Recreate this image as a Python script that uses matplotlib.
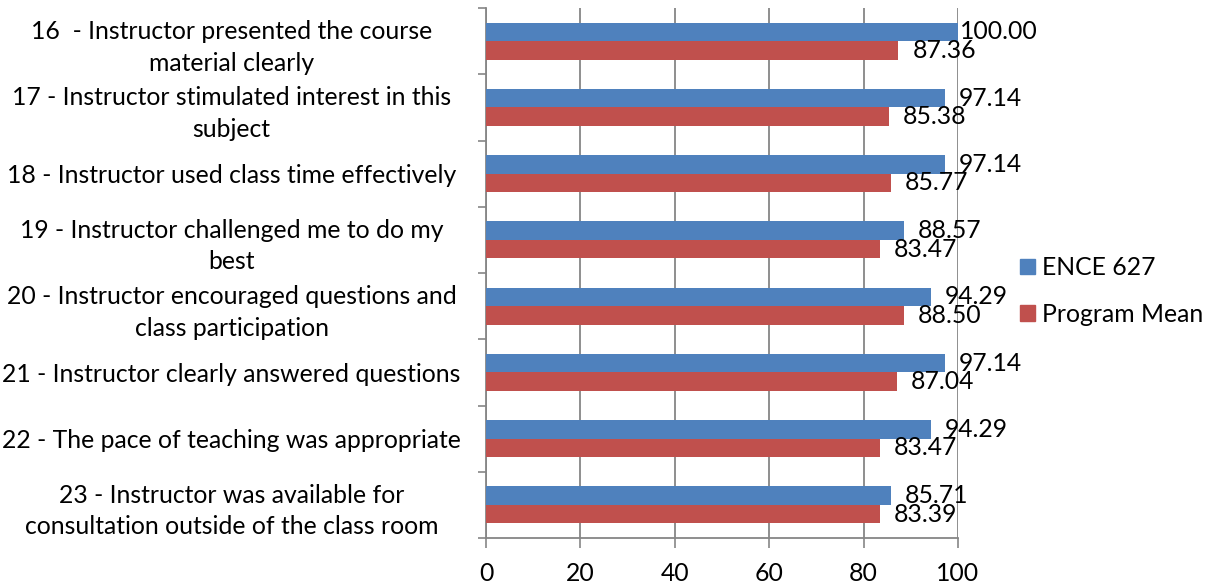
import matplotlib
matplotlib.use("Agg")
import matplotlib.pyplot as plt
import numpy as np
from matplotlib.patches import Patch

plt.rcParams['font.family'] = ['Lato', 'DejaVu Sans']

categories = [
    "16  - Instructor presented the course\nmaterial clearly",
    "17 - Instructor stimulated interest in this\nsubject",
    "18 - Instructor used class time effectively",
    "19 - Instructor challenged me to do my\nbest",
    "20 - Instructor encouraged questions and\nclass participation",
    "21 - Instructor clearly answered questions",
    "22 - The pace of teaching was appropriate",
    "23 - Instructor was available for\nconsultation outside of the class room",
]
ence_627 = [100.00, 97.14, 97.14, 88.57, 94.29, 97.14, 94.29, 85.71]
program_mean = [87.36, 85.38, 85.77, 83.47, 88.50, 87.04, 83.47, 83.39]
series_names = ["ENCE 627", "Program Mean"]
xticks = [0, 20, 40, 60, 80, 100]

BLUE = "#4F81BD"
RED = "#C0504D"
GRID = "#868686"
FS = 17.8

fig = plt.figure(figsize=(12.11, 5.86), dpi=100)
ax = fig.add_axes([486/1211, 1-538/586, (958-486)/1211, (538-8)/586])

n = len(categories)
y = np.arange(n)
h = 0.28
ax.barh(y - h/2, ence_627, height=h, color=BLUE, zorder=3)
ax.barh(y + h/2, program_mean, height=h, color=RED, zorder=3)

ax.set_xlim(0, 100)
ax.set_ylim(n - 0.5, -0.5)
ax.set_xticks(xticks)
ax.set_xticklabels([str(t) for t in xticks], fontsize=FS)
ax.set_yticks(y)
ax.set_yticklabels(categories, fontsize=FS, ha='center', linespacing=1.45)
ax.tick_params(axis='y', length=0)

ax.set_yticks(np.arange(-0.5, n, 1), minor=True)
ax.tick_params(axis='y', which='minor', length=6, color=GRID, width=1.2, direction='out')
ax.tick_params(axis='x', length=7, color=GRID, width=1.2, direction='out', pad=10)

ax.grid(axis='x', color=GRID, linewidth=1.3, zorder=0)
for s in ['top', 'right']:
    ax.spines[s].set_visible(False)
for s in ['left', 'bottom']:
    ax.spines[s].set_color(GRID)
    ax.spines[s].set_linewidth(1.3)

fig.canvas.draw()
renderer = fig.canvas.get_renderer()
right_edge_px = 461
widths = [lab.get_window_extent(renderer).width for lab in ax.get_yticklabels()]
maxw = max(widths)
center_px = right_edge_px - maxw/2
ax.tick_params(axis='y', which='major', pad=(486 - center_px) * 72/100)

def add_labels(vals, offs):
    for yi, v in zip(y, vals):
        xd = ax.transData.transform((v, 0))[0]
        xr = ax.transData.transform((100, 0))[0]
        xl = min(xd + 14, xr + 2)
        yd = ax.transData.transform((0, yi + offs))[1]
        ax.annotate(f"{v:.2f}", xy=(xl, yd), xycoords='figure pixels',
                    ha='left', va='center', fontsize=FS, zorder=5,
                    annotation_clip=False)

add_labels(ence_627, -h/2)
add_labels(program_mean, h/2)

handles = [Patch(color=BLUE, label=series_names[0]),
           Patch(color=RED, label=series_names[1])]
fig.legend(handles=handles, loc='center left', bbox_to_anchor=(998/1211, 1-291/586),
           frameon=False, fontsize=FS, handlelength=0.6, handleheight=0.6,
           handletextpad=0.3, labelspacing=0.95)

fig.savefig("out.png", dpi=100)
